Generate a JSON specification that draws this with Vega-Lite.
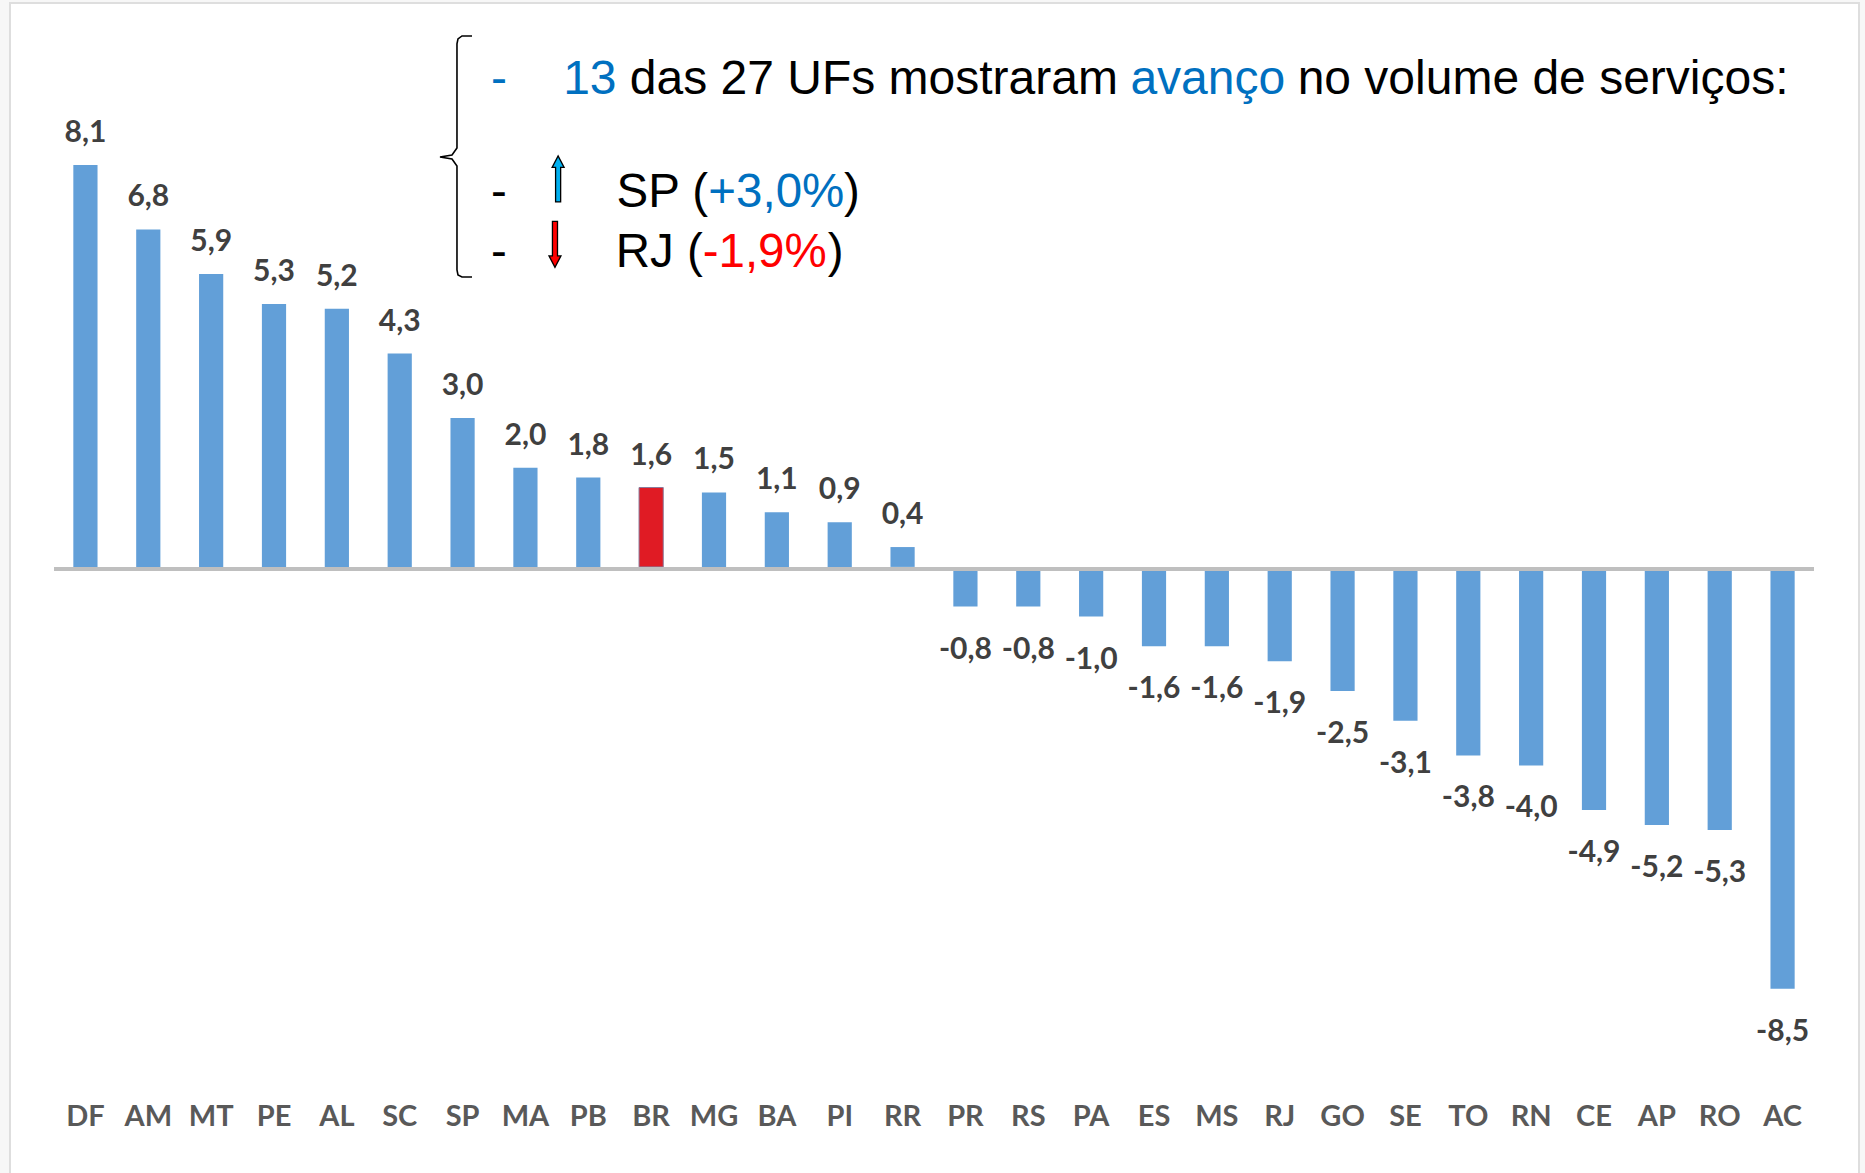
{
  "$schema": "https://vega.github.io/schema/vega-lite/v6.json",
  "width": 1760,
  "height": 1067,
  "autosize": {"type": "none"},
  "padding": {"left": 54, "top": 21, "right": 51, "bottom": 85},
  "background": "#f7f7f7",
  "config": {
    "view": {"stroke": null},
    "locale": {"number": {"decimal": ",", "thousands": ".", "grouping": [3], "currency": ["", ""], "minus": "-"}}
  },
  "datasets": {
    "ufs": [
      {"uf": "DF", "v": 8.1}, {"uf": "AM", "v": 6.8}, {"uf": "MT", "v": 5.9}, {"uf": "PE", "v": 5.3},
      {"uf": "AL", "v": 5.2}, {"uf": "SC", "v": 4.3}, {"uf": "SP", "v": 3.0}, {"uf": "MA", "v": 2.0},
      {"uf": "PB", "v": 1.8}, {"uf": "BR", "v": 1.6}, {"uf": "MG", "v": 1.5}, {"uf": "BA", "v": 1.1},
      {"uf": "PI", "v": 0.9}, {"uf": "RR", "v": 0.4}, {"uf": "PR", "v": -0.8}, {"uf": "RS", "v": -0.8},
      {"uf": "PA", "v": -1.0}, {"uf": "ES", "v": -1.6}, {"uf": "MS", "v": -1.6}, {"uf": "RJ", "v": -1.9},
      {"uf": "GO", "v": -2.5}, {"uf": "SE", "v": -3.1}, {"uf": "TO", "v": -3.8}, {"uf": "RN", "v": -4.0},
      {"uf": "CE", "v": -4.9}, {"uf": "AP", "v": -5.2}, {"uf": "RO", "v": -5.3}, {"uf": "AC", "v": -8.5}
    ],
    "frame": [{"x": -1.2, "x2": 28.216, "y": 11.364, "y2": -12.754}],
    "brace": [
      {"o": 1, "x": 6.15, "y": 10.699}, {"o": 2, "x": 5.991, "y": 10.699}, {"o": 3, "x": 5.927, "y": 10.639},
      {"o": 4, "x": 5.911, "y": 10.538}, {"o": 5, "x": 5.911, "y": 8.442}, {"o": 6, "x": 5.832, "y": 8.301},
      {"o": 7, "x": 5.641, "y": 8.261}, {"o": 8, "x": 5.832, "y": 8.221}, {"o": 9, "x": 5.911, "y": 8.080},
      {"o": 10, "x": 5.911, "y": 5.984}, {"o": 11, "x": 5.927, "y": 5.884}, {"o": 12, "x": 5.991, "y": 5.843},
      {"o": 13, "x": 6.15, "y": 5.843}
    ],
    "txt": [
      {"line": 1, "x": 6.452, "y": 9.531, "t": "-", "role": "blue"},
      {"line": 1, "x": 7.60, "y": 9.531, "t": "13", "role": "blue"},
      {"line": 1, "x": 8.66, "y": 9.531, "t": "das 27 UFs mostraram", "role": "black"},
      {"line": 1, "x": 16.625, "y": 9.531, "t": "avanço", "role": "blue"},
      {"line": 1, "x": 19.285, "y": 9.531, "t": "no volume de serviços:", "role": "black"},
      {"line": 2, "x": 6.452, "y": 7.254, "t": "-", "role": "black"},
      {"line": 2, "x": 8.45, "y": 7.254, "t": "SP (", "role": "black"},
      {"line": 2, "x": 9.91, "y": 7.254, "t": "+3,0%", "role": "blue"},
      {"line": 2, "x": 12.07, "y": 7.254, "t": ")", "role": "black"},
      {"line": 3, "x": 6.452, "y": 6.045, "t": "-", "role": "black"},
      {"line": 3, "x": 8.435, "y": 6.045, "t": "RJ (", "role": "black"},
      {"line": 3, "x": 9.82, "y": 6.045, "t": "-1,9%", "role": "red"},
      {"line": 3, "x": 11.81, "y": 6.045, "t": ")", "role": "black"}
    ],
    "arrows": [
      {"dir": "up", "x": 7.52, "y": 7.818},
      {"dir": "down", "x": 7.47, "y": 6.498}
    ]
  },
  "resolve": {"scale": {"x": "independent"}},
  "layer": [
    {
      "data": {"name": "frame"},
      "mark": {"type": "rect", "fill": "#ffffff", "stroke": "#dedede", "strokeWidth": 2},
      "encoding": {
        "x": {"field": "x", "type": "quantitative", "scale": {"domain": [-0.5, 27.5], "nice": false, "zero": false}, "axis": null},
        "x2": {"field": "x2"},
        "y": {"field": "y", "type": "quantitative", "scale": {"domain": [-10.5, 11], "nice": false, "zero": false}, "axis": null},
        "y2": {"field": "y2"}
      }
    },
    {
      "layer": [
        {
          "data": {"name": "ufs"},
          "mark": {"type": "bar"},
          "encoding": {
            "x": {
              "field": "uf", "type": "nominal", "sort": null,
              "scale": {
                "domain": ["DF","AM","MT","PE","AL","SC","SP","MA","PB","BR","MG","BA","PI","RR","PR","RS","PA","ES","MS","RJ","GO","SE","TO","RN","CE","AP","RO","AC"],
                "paddingInner": 0.615, "paddingOuter": 0.3075
              },
              "axis": {
                "orient": "bottom", "title": null, "domain": false, "ticks": false, "tickSize": 0, "zindex": 2,
                "labelPadding": 28, "labelBaseline": "middle", "labelAngle": 0,
                "labelFont": "Lato", "labelFontWeight": "bold", "labelFontSize": 29, "labelColor": "#595959"
              }
            },
            "y": {"field": "v", "type": "quantitative", "scale": {"domain": [-10.5, 11], "nice": false, "zero": false}, "axis": null},
            "color": {"condition": {"test": "datum.uf === 'BR'", "value": "#e01b24"}, "value": "#629fd8"},
            "stroke": {"condition": {"test": "datum.uf === 'BR'", "value": "#8a7a9a"}, "value": null}
          }
        },
        {
          "data": {"values": [{}]},
          "mark": {"type": "rule", "color": "#bfbfbf", "strokeWidth": 4, "yOffset": 2},
          "encoding": {"y": {"datum": 0, "type": "quantitative"}}
        },
        {
          "data": {"name": "ufs"},
          "transform": [{"filter": "datum.v >= 0"}],
          "mark": {"type": "text", "font": "Lato", "fontWeight": "bold", "fontSize": 30, "color": "#404040", "baseline": "middle", "dy": -32},
          "encoding": {
            "x": {"field": "uf", "type": "nominal", "sort": null},
            "y": {"field": "v", "type": "quantitative"},
            "text": {"field": "v", "type": "quantitative", "format": ".1f"}
          }
        },
        {
          "data": {"name": "ufs"},
          "transform": [{"filter": "datum.v < 0"}],
          "mark": {"type": "text", "font": "Lato", "fontWeight": "bold", "fontSize": 30, "color": "#404040", "baseline": "middle", "dy": 43},
          "encoding": {
            "x": {"field": "uf", "type": "nominal", "sort": null},
            "y": {"field": "v", "type": "quantitative"},
            "text": {"field": "v", "type": "quantitative", "format": ".1f"}
          }
        }
      ]
    },
    {
      "layer": [
        {
          "data": {"name": "brace"},
          "mark": {"type": "line", "color": "#000000", "strokeWidth": 1.6},
          "encoding": {
            "x": {"field": "x", "type": "quantitative", "scale": {"domain": [-0.5, 27.5], "nice": false, "zero": false}, "axis": null},
            "y": {"field": "y", "type": "quantitative", "axis": null},
            "order": {"field": "o", "type": "quantitative"}
          }
        },
        {
          "data": {"name": "txt"},
          "transform": [{"filter": "datum.line === 1"}],
          "mark": {"type": "text", "font": "Liberation Sans", "fontSize": 48, "align": "left", "baseline": "alphabetic"},
          "encoding": {
            "x": {"field": "x", "type": "quantitative"},
            "y": {"field": "y", "type": "quantitative"},
            "text": {"field": "t"},
            "color": {"field": "role", "type": "nominal", "scale": {"domain": ["blue", "black", "red"], "range": ["#0070c0", "#000000", "#ff0000"]}, "legend": null}
          }
        },
        {
          "data": {"name": "txt"},
          "transform": [{"filter": "datum.line > 1"}],
          "mark": {"type": "text", "font": "Liberation Sans", "fontSize": 47.5, "align": "left", "baseline": "alphabetic"},
          "encoding": {
            "x": {"field": "x", "type": "quantitative"},
            "y": {"field": "y", "type": "quantitative"},
            "text": {"field": "t"},
            "color": {"field": "role", "type": "nominal", "scale": {"domain": ["blue", "black", "red"], "range": ["#0070c0", "#000000", "#ff0000"]}, "legend": null}
          }
        },
        {
          "data": {"name": "arrows"},
          "mark": {"type": "point", "filled": true, "size": 2116, "stroke": "#000000", "strokeWidth": 1.3, "opacity": 1},
          "encoding": {
            "x": {"field": "x", "type": "quantitative"},
            "y": {"field": "y", "type": "quantitative"},
            "shape": {"field": "dir", "type": "nominal", "scale": {"domain": ["up", "down"], "range": ["M-0.11,1L-0.11,-0.5L-0.26,-0.5L0,-1L0.26,-0.5L0.11,-0.5L0.11,1Z", "M-0.11,-1L-0.11,0.5L-0.26,0.5L0,1L0.26,0.5L0.11,0.5L0.11,-1Z"]}, "legend": null},
            "fill": {"field": "dir", "type": "nominal", "scale": {"domain": ["up", "down"], "range": ["#00b0f0", "#ff0000"]}, "legend": null}
          }
        }
      ]
    }
  ]
}
